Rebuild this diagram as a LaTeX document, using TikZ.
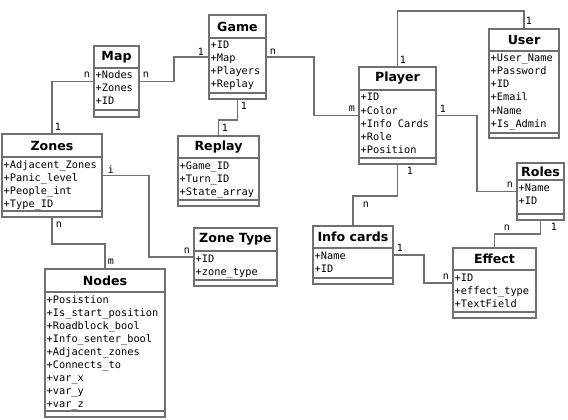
\documentclass[tikz,border=0pt]{standalone}
\usepackage{fontspec}
\usepackage{tikz}
\usetikzlibrary{positioning}
\newfontfamily\titlefont{DejaVu Sans}
\newfontfamily\attrfont{DejaVu Sans Mono}
\definecolor{umlgray}{RGB}{112,112,112}
\tikzstyle{classbox} =[draw=umlgray, line width=1.6pt, rectangle, inner sep=0pt, fill=white]
\tikzstyle{classline} =[draw=umlgray, line width=1.6pt]
\tikzstyle{classtitle} =[inner sep=0pt, font=\titlefont\bfseries\fontsize{12.6}{15}\selectfont]
\tikzstyle{attr} =[inner sep=0pt, anchor=base west, font=\attrfont\fontsize{10.3}{13}\selectfont]
\tikzstyle{mult} =[inner sep=0pt, font=\attrfont\fontsize{10}{12}\selectfont]
\tikzstyle{link} =[draw=umlgray, line width=1.6pt]
% name, left, top, right, bottom, title line, attribute line, title, attributes
\newcommand{\umlclass}[9]{%
	\node [classbox, minimum width={(#4-#2)*1pt}, minimum height={(#5-#3)*1pt}] (#1) at ({(#2+#4)/2},{(#3+#5)/2}) {};
	\node [classtitle] (#1-title) at ({(#2+#4)/2},{(#3+#6)/2}) {#8};
	\draw [classline] (#2,#6) -- (#4,#6);
	\draw [classline] (#2,#7) -- (#4,#7);
	\foreach \attrtext [count=\k] in {#9}
		\node [attr] (#1-a\k) at ({#2+1.5},{#6+11+13*(\k-1)}) {\attrtext};
}

\begin{document}
\begin{tikzpicture}[x=1pt, y=-1pt]
	\useasboundingbox (0,0) rectangle (568,420);
	
	\umlclass{game}{209}{15}{266}{99}{38}{93}{Game}{+ID, +Map, +Players, +Replay}
	\umlclass{map}{94}{46}{139}{117}{68}{110}{Map}{+Nodes, +Zones, +ID}
	\umlclass{zones}{2}{134}{102}{217}{157}{211}{Zones}{+Adjacent\_Zones, +Panic\_level, +People\_int, +Type\_ID}
	\umlclass{replay}{178}{136}{259}{206}{158}{200}{Replay}{+Game\_ID, +Turn\_ID, +State\_array}
	\umlclass{player}{359}{67}{436}{164}{90}{158}{Player}{+ID, +Color, +Info Cards, +Role, +Position}
	\umlclass{user}{489}{29}{559}{138}{51}{133}{User}{+User\_Name, +Password, +ID, +Email, +Name, +Is\_Admin}
	\umlclass{roles}{517}{163}{564}{220}{180}{214}{Roles}{+Name, +ID}
	\umlclass{infocards}{313}{226}{393}{284}{248}{278}{Info cards}{+Name, +ID}
	\umlclass{effect}{453}{248}{536}{318}{270}{312}{Effect}{+ID, +effect\_type, +TextField}
	\umlclass{zonetype}{194}{228}{277}{286}{251}{280}{Zone Type}{+ID, +zone\_type}
	\umlclass{nodes}{45}{269}{165}{417}{292}{411}{Nodes}{+Posistion, +Is\_start\_position, +Roadblock\_bool, +Info\_senter\_bool, +Adjacent\_zones, +Connects\_to, +var\_x, +var\_y, +var\_z}
	
	% connectors
	\draw [link] (map.east) -- ++(34,0) |- (game.west);
	\draw [link] (map.west) -| (zones.north);
	\draw [link] (game.south) -- ++(0,20) -| (replay.north);
	\draw [link] (game.east) -- ++(47,0) |- (player.west);
	\draw [link] (player.north) -- ++(0,-55) -| (user.north);
	\draw [link] (player.east) -- ++(40,0) |- (roles.west);
	\draw [link] (player.south) -- ++(0,31) -| (infocards.north);
	\draw [link] (roles.south) -- ++(0,13) -| (effect.north);
	\draw [link] (infocards.east) -- ++(30,0) |- (effect.west);
	\draw [link] (zones.east) -- ++(46,0) |- (zonetype.west);
	\draw [link] (zones.south) -- ++(0,26) -| (nodes.north);
	
	% multiplicities
	\node [mult] (m-mapE) at (146,75) {n};
	\node [mult] (m-gameW) at (201,52) {1};
	\node [mult] (m-mapW) at (87,75) {n};
	\node [mult] (m-zonesN) at (58,127) {1};
	\node [mult] (m-gameS) at (244,106) {1};
	\node [mult] (m-replayN) at (225,128) {1};
	\node [mult] (m-gameE) at (273,52) {n};
	\node [mult] (m-playerW) at (352,109) {m};
	\node [mult] (m-playerN) at (403,60) {1};
	\node [mult] (m-userN) at (529,21) {1};
	\node [mult] (m-playerE) at (443,109) {1};
	\node [mult] (m-rolesW) at (510,185) {n};
	\node [mult] (m-playerS) at (410,171) {1};
	\node [mult] (m-infoN) at (366,205) {n};
	\node [mult] (m-rolesS) at (554,227) {1};
	\node [mult] (m-effectN) at (507,228) {n};
	\node [mult] (m-infoE) at (400,248) {1};
	\node [mult] (m-effectW) at (446,277) {n};
	\node [mult] (m-zonesE) at (111,170) {i};
	\node [mult] (m-ztypeW) at (187,251) {n};
	\node [mult] (m-zonesS) at (59,225) {n};
	\node [mult] (m-nodesN) at (111,262) {m};
\end{tikzpicture}
\end{document}
